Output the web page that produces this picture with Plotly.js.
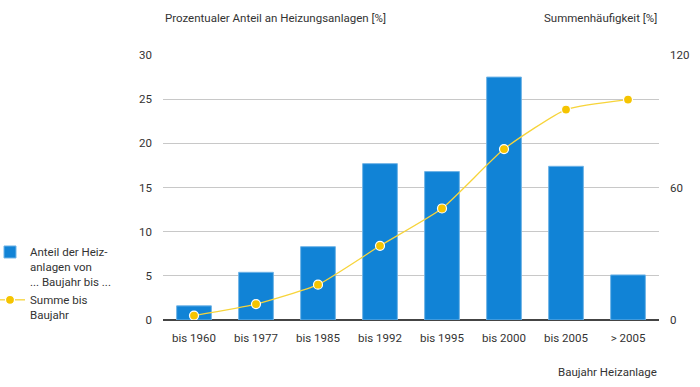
<!DOCTYPE html>
<html><head><meta charset="utf-8">
<script src="https://cdn.plot.ly/plotly-3.0.1.min.js"></script>
<style>body{margin:0;background:#fff}#c{width:700px;height:387px}</style>
</head><body><div id="c"></div>
<script>
const categories = ["bis 1960","bis 1977","bis 1985","bis 1992","bis 1995","bis 2000","bis 2005","> 2005"];
const shareValues = [1.6, 5.4, 8.3, 17.7, 16.8, 27.5, 17.4, 5.1];
const cumulativeValues = [2.0, 7.2, 16.0, 33.6, 50.5, 77.4, 95.3, 99.8];
const leftTicks = [0,5,10,15,20,25,30];
const rightTicks = [0,60,120];

const font = {family:"Roboto, 'Liberation Sans', sans-serif", size:11.5, color:"#333"};
const traces = [
  {type:"bar", x:categories, y:shareValues, name:"Anteil der Heiz-<br>anlagen von<br>... Baujahr bis ...",
   marker:{color:"#1183d6", line:{color:"#6fb3e6", width:1}}, yaxis:"y"},
  {type:"scatter", mode:"lines+markers", x:categories, y:cumulativeValues, name:"Summe bis<br>Baujahr",
   line:{color:"#f7d43a", width:1.3, shape:"spline", smoothing:0.5},
   marker:{color:"#f5c400", size:9, line:{color:"#fff", width:1.2}}, yaxis:"y2"}
];
const plotLeft = 163, plotRight = 659;
const plotTop = 55, plotBottom = 320, plotH = plotBottom - plotTop;
const py = v => (plotBottom - v) / plotH;
const layout = {
  width:700, height:387, margin:{l:plotLeft, r:700-plotRight, t:plotTop, b:387-plotBottom},
  paper_bgcolor:"#fff", plot_bgcolor:"#fff", font:font,
  bargap:0.44, showlegend:true,
  legend:{xref:"container", yref:"container", x:0, y:1-238/387, xanchor:"left", yanchor:"top", valign:"top",
          font:{family:font.family, size:11.5, color:"#333"}, tracegroupgap:10, itemwidth:30},
  xaxis:{type:"category", showgrid:false, ticks:"", tickfont:font, showline:false, ticklabelstandoff:9},
  yaxis:{range:[0,30], tickvals:leftTicks, showgrid:true, gridcolor:"#c8c8c8", gridwidth:1.2,
         zeroline:true, zerolinecolor:"#444", zerolinewidth:2, ticks:"", ticklabelstandoff:10, tickfont:font},
  yaxis2:{range:[0,120], tickvals:rightTicks, overlaying:"y", side:"right", showgrid:false, zeroline:false,
          ticks:"", ticklabelstandoff:10, tickfont:font},
  annotations:[
    {text:"Prozentualer Anteil an Heizungsanlagen [%]", xref:"paper", yref:"paper", x:0, y:py(18), xanchor:"left", yanchor:"middle", showarrow:false, font:font},
    {text:"Summenhäufigkeit [%]", xref:"paper", yref:"paper", x:1, y:py(18), xanchor:"right", yanchor:"middle", showarrow:false, font:font},
    {text:"Baujahr Heizanlage", xref:"paper", yref:"paper", x:1, y:py(372), xanchor:"right", yanchor:"middle", showarrow:false, font:font}
  ]
};
Plotly.newPlot("c", traces, layout, {displayModeBar:false, staticPlot:true}).then(gd => {
  const lg = gd.querySelector('g.legend');
  if (lg) {
    const t = lg.getAttribute('transform') || '';
    const m = t.match(/translate\(\s*([-\d.]+)[ ,]+([-\d.]+)\s*\)/);
    if (m) lg.setAttribute('transform', 'translate(' + (parseFloat(m[1]) - 10) + ',' + m[2] + ')');
  }
});
</script></body></html>
